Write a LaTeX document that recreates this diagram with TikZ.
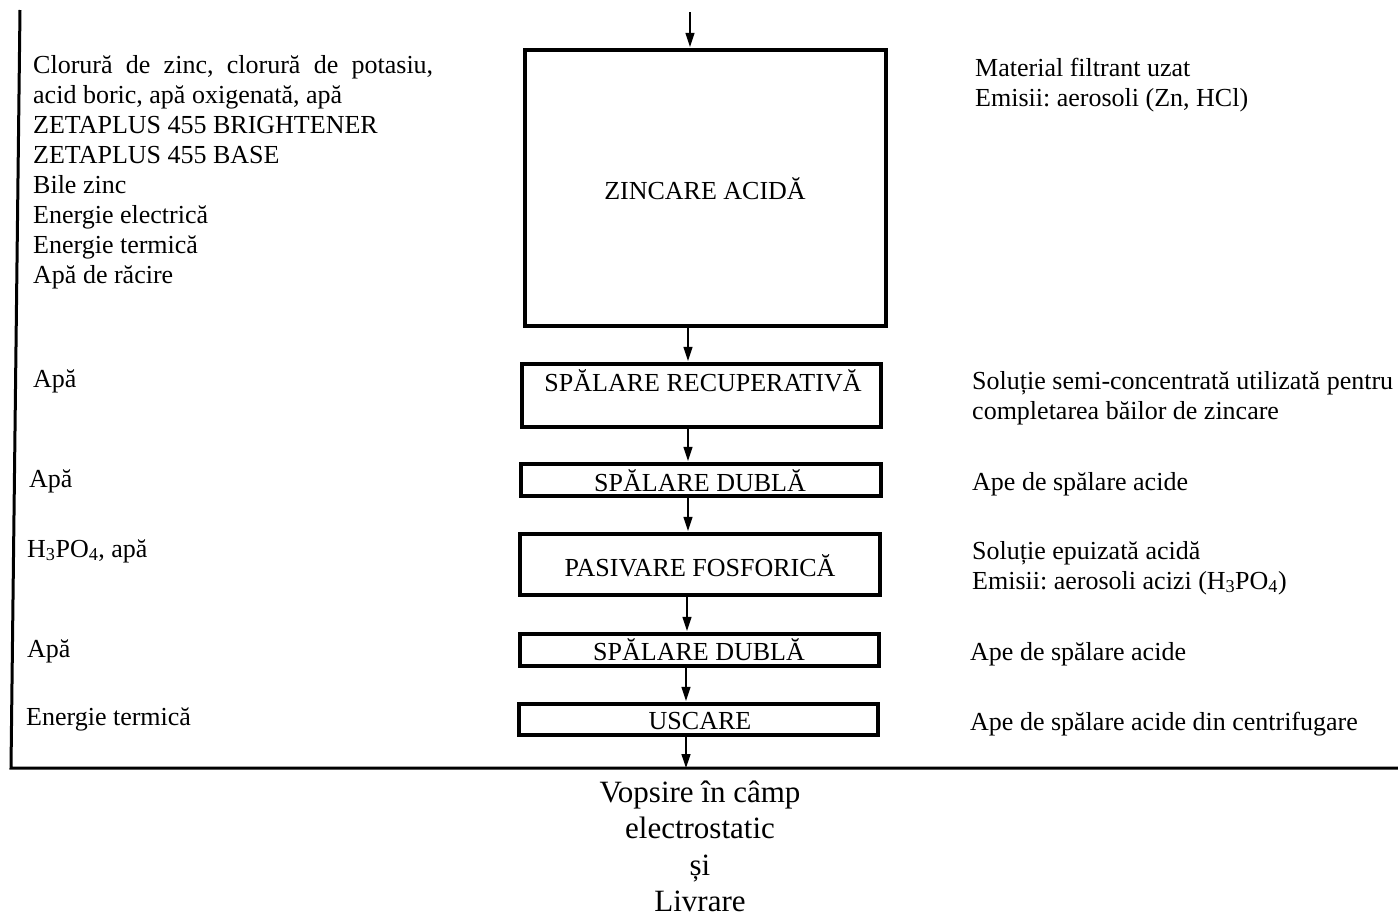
\documentclass[tikz,border=0pt]{standalone}
\usepackage{fontspec}
\setmainfont{Liberation Serif}
\usetikzlibrary{arrows.meta}
\frenchspacing
\begin{document}
\begin{tikzpicture}[x=1pt,y=-1pt,
  box/.style={draw, line width=3.8pt, inner sep=0pt},
  boxtxt/.style={anchor=base, inner sep=0pt, font=\fontsize{26}{30}\selectfont},
  arr/.style={-{Triangle[length=14pt,width=9pt]}, line width=1.3pt, shorten >=1.2pt},
  frame/.style={line width=3pt},
  txt/.style={anchor=base west, inner sep=0pt, font=\fontsize{26}{30}\selectfont},
  blk/.style={anchor=north west, inner sep=0pt, align=left, font=\fontsize{26}{30}\selectfont},
  fin/.style={anchor=north, inner sep=0pt, align=center, font=\fontsize{31}{36.5}\selectfont}]
\useasboundingbox (0,0) rectangle (1398,916);

% frame
\coordinate (ftop) at (20,10);
\coordinate (fcorner) at (11,768);
\coordinate (fright) at (1398,768);
\draw[frame] (ftop) -- (fcorner) -- (fright);

% process boxes
\node[box, minimum width=361pt, minimum height=276pt] (zinc) at (705.5,188) {};
\node[boxtxt] (zinct) at (705,199) {ZINCARE ACIDĂ};
\node[box, minimum width=359pt, minimum height=63pt] (rec) at (701.5,395.5) {};
\node[boxtxt] (rect) at (703,391) {SPĂLARE RECUPERATIVĂ};
\node[box, minimum width=360pt, minimum height=32pt] (dub1) at (701,480) {};
\node[boxtxt] (dub1t) at (700,491) {SPĂLARE DUBLĂ};
\node[box, minimum width=360pt, minimum height=61pt] (pas) at (700,564.5) {};
\node[boxtxt] (past) at (700,576) {PASIVARE FOSFORICĂ};
\node[box, minimum width=359pt, minimum height=32pt] (dub2) at (699.5,650) {};
\node[boxtxt] (dub2t) at (699,660) {SPĂLARE DUBLĂ};
\node[box, minimum width=359pt, minimum height=31pt] (usc) at (698.5,719.5) {};
\node[boxtxt] (usct) at (700,729) {USCARE};

% arrows
\coordinate (in) at (690,12);
\coordinate (a1) at (688,0);
\coordinate (a2) at (688,0);
\coordinate (a3) at (688,0);
\coordinate (a4) at (687,0);
\coordinate (a5) at (686,0);
\coordinate (out) at (686,768);
\draw[arr] (in) -- (in |- zinc.north);
\draw[arr] (zinc.south -| a1) -- (rec.north -| a1);
\draw[arr] (rec.south -| a2) -- (dub1.north -| a2);
\draw[arr] (dub1.south -| a3) -- (pas.north -| a3);
\draw[arr] (pas.south -| a4) -- (dub2.north -| a4);
\draw[arr] (dub2.south -| a5) -- (usc.north -| a5);
\draw[arr, shorten >=0pt] (usc.south -| out) -- (out);

% inputs (left)
\node[blk] (in1) at (33,53) {\rule{0pt}{20pt}\makebox[400pt][s]{Clorură de zinc, clorură de potasiu,}\\
acid boric, apă oxigenată, apă\\
ZETAPLUS 455 BRIGHTENER\\
ZETAPLUS 455 BASE\\
Bile zinc\\
Energie electrică\\
Energie termică\\
Apă de răcire};
\node[txt] (in2) at (33,387) {Apă};
\node[txt] (in3) at (29,487) {Apă};
\node[txt] (in4) at (27,557) {H\textsubscript{3}PO\textsubscript{4}, apă};
\node[txt] (in5) at (27,657) {Apă};
\node[txt] (in6) at (26,725) {Energie termică};

% outputs (right)
\node[blk] (out1) at (975,56) {\rule{0pt}{20pt}Material filtrant uzat\\
Emisii: aerosoli (Zn, HCl)};
\node[blk] (out2) at (972,369) {\rule{0pt}{20pt}Soluție semi-concentrată utilizată pentru\\
completarea băilor de zincare};
\node[txt] (out3) at (972,490) {Ape de spălare acide};
\node[blk] (out4) at (972,539) {\rule{0pt}{20pt}Soluție epuizată acidă\\
Emisii: aerosoli acizi (H\textsubscript{3}PO\textsubscript{4})};
\node[txt] (out5) at (970,660) {Ape de spălare acide};
\node[txt] (out6) at (970,730) {Ape de spălare acide din centrifugare};

% final destination
\node[fin] (final) at (700,778) {\rule{0pt}{24pt}Vopsire în câmp\\ electrostatic\\ și\\ Livrare};
\end{tikzpicture}
\end{document}
